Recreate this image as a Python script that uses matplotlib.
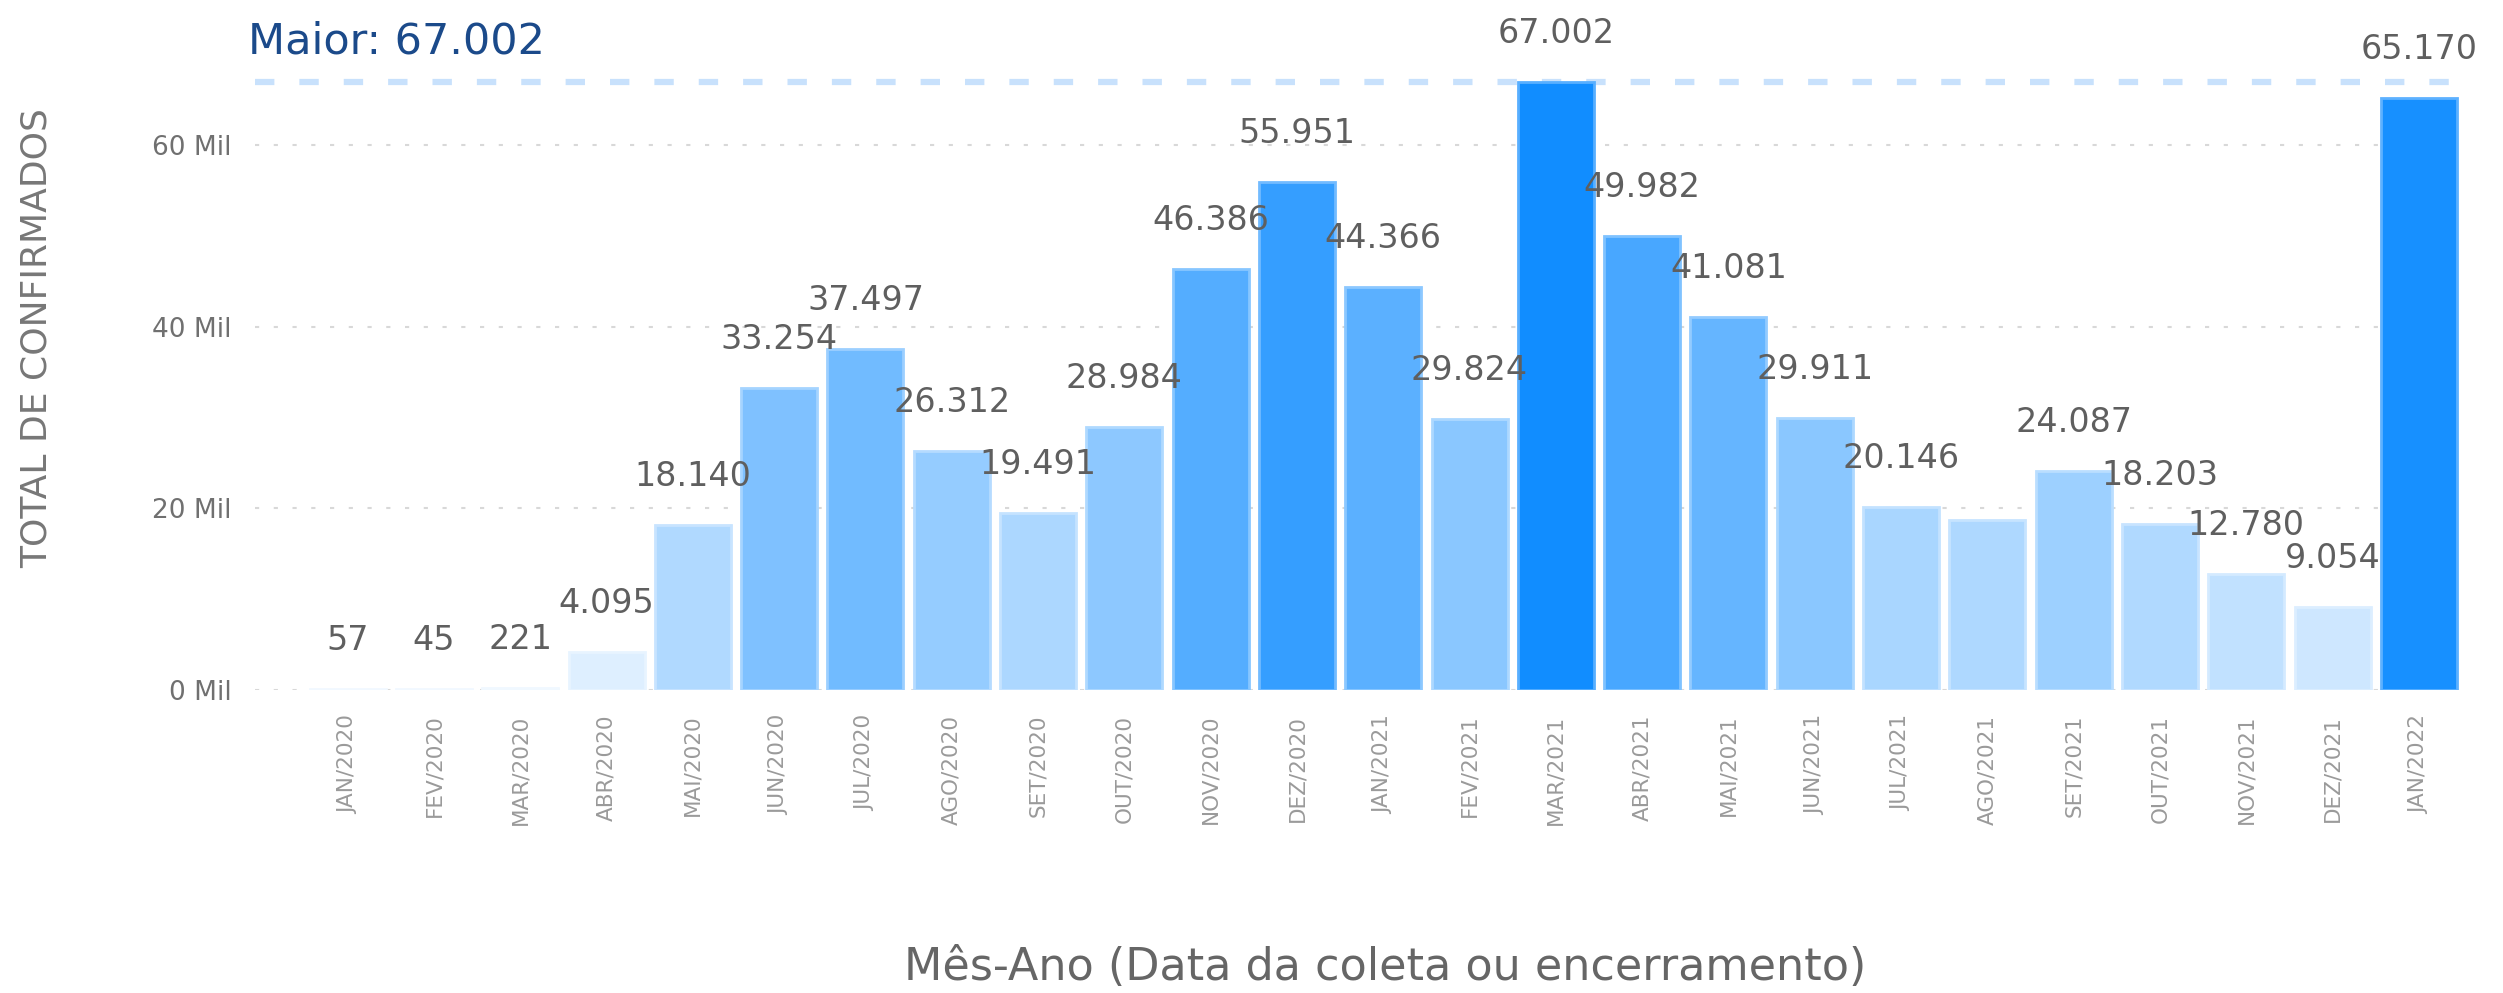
import matplotlib.pyplot as plt
import numpy as np

# monthly confirmed cases
meses = ['JAN/2020', 'FEV/2020', 'MAR/2020', 'ABR/2020', 'MAI/2020', 'JUN/2020',
         'JUL/2020', 'AGO/2020', 'SET/2020', 'OUT/2020', 'NOV/2020', 'DEZ/2020',
         'JAN/2021', 'FEV/2021', 'MAR/2021', 'ABR/2021', 'MAI/2021', 'JUN/2021',
         'JUL/2021', 'AGO/2021', 'SET/2021', 'OUT/2021', 'NOV/2021', 'DEZ/2021',
         'JAN/2022']
confirmados = [57, 45, 221, 4095, 18140, 33254, 37497, 26312, 19491, 28984,
               46386, 55951, 44366, 29824, 67002, 49982, 41081, 29911, 20146,
               18700, 24087, 18203, 12780, 9054, 65170]
# AGO/2021 label is hidden in the original
mostrar_rotulo = [m != 'AGO/2021' for m in meses]
y_ticks = [0, 20000, 40000, 60000]


def fmt_br(v):
    return f'{v:,.0f}'.replace(',', '.')


plt.rcParams['font.family'] = ['DejaVu Sans']

fig = plt.figure(figsize=(25.03, 9.93), dpi=100)
ax = fig.add_axes([0.102, 0.3055, 0.883, 0.6945])

vals = np.array(confirmados, dtype=float)
frac = vals / vals.max()
low = np.array([235, 245, 255]) / 255
high = np.array([17, 141, 255]) / 255
cores = [tuple(low + f * (high - low)) for f in frac]
bordas = [tuple(np.array(c) + 0.3 * (1 - np.array(c))) for c in cores]

x = np.arange(len(meses))
ax.bar(x, vals, width=0.88, color=cores, edgecolor=bordas, linewidth=2, zorder=2)

for xi, v, show in zip(x, vals, mostrar_rotulo):
    if show:
        ax.annotate(fmt_br(v), (xi, v), xytext=(0, 35), textcoords='offset points',
                    ha='center', va='center', fontsize=24, color='#5f5f5f', zorder=5)

# max line
vmax = vals.max()
ax.axhline(vmax, color='#C8E1FC', linewidth=4.5, dashes=(3.1, 4), zorder=1)
ax.text(-1.15, vmax + 4400, 'Maior: ' + fmt_br(vmax), fontsize=31, color='#1B4A8A',
        ha='left', va='center')

ax.set_xlim(-1.07, len(meses) - 0.46)
ax.set_ylim(0, 76000)

ax.set_yticks(y_ticks)
ax.set_yticklabels([f'{int(t / 1000)} Mil' for t in y_ticks], fontsize=19, color='#707070')
ax.set_xticks(x)
ax.set_xticklabels(meses, rotation=90, fontsize=15.5, color='#9a9a9a')
ax.tick_params(axis='both', length=0)
ax.tick_params(axis='y', pad=17)
ax.tick_params(axis='x', pad=18)

for t in y_ticks:
    ax.axhline(t, color='#d8d8d8', linewidth=1.5, dashes=(2, 7), zorder=0)

for s in ax.spines.values():
    s.set_visible(False)

ax.set_ylabel('TOTAL DE CONFIRMADOS', fontsize=26, color='#777777')
ax.yaxis.set_label_coords(-0.0914, 0.51)
ax.set_xlabel('Mês-Ano (Data da coleta ou encerramento)', fontsize=32, color='#666666')
ax.xaxis.set_label_coords(0.511, -0.372)

fig.savefig('out.png', dpi=100, facecolor='white')
